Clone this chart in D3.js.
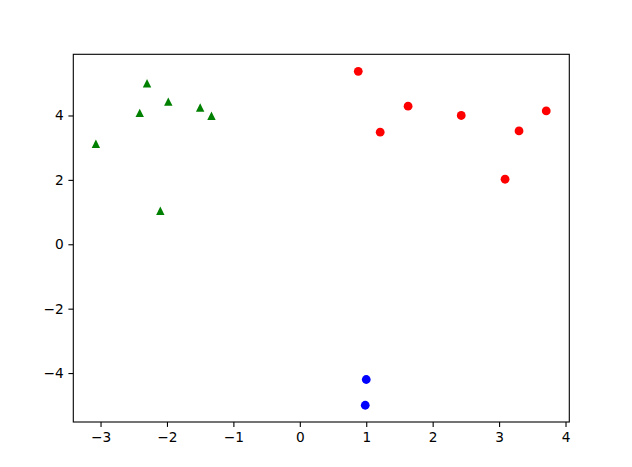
<!DOCTYPE html>
<html>
<head>
<meta charset="utf-8">
<style>
  body { margin: 0; background: white; }
  svg { display: block; }
  .tick text { font-family: "DejaVu Sans", sans-serif; font-size: 13.7px; fill: #000; }
  .tick line, .domain { stroke: #000; stroke-width: 1.1; }
</style>
<script src="https://cdn.jsdelivr.net/npm/d3@7"></script>
</head>
<body>
<svg id="chart"></svg>
<script>
// green triangles
let greenX = [-3.07, -2.30, -2.41, -1.98, -1.50, -1.33, -2.10]
let greenY = [3.12, 5.00, 4.08, 4.43, 4.25, 3.99, 1.04]
// red circles
let redX = [0.88, 1.21, 1.63, 2.43, 3.09, 3.30, 3.71]
let redY = [5.37, 3.48, 4.29, 4.00, 2.02, 3.52, 4.14]
// blue circles
let blueX = [1.00, 0.985]
let blueY = [-4.20, -5.00]

let xTicks = [-3, -2, -1, 0, 1, 2, 3, 4]
let yTicks = [-4, -2, 0, 2, 4]

let width = 632, height = 467
let margin = {left: 73.3, right: 632 - 569.3, top: 54.3, bottom: 467 - 422}

let svg = d3.select("#chart").attr("width", width).attr("height", height)

let x = d3.scaleLinear().domain([-3.41, 4.057]).range([margin.left, width - margin.right])
let y = d3.scaleLinear().domain([-5.52, 5.90]).range([height - margin.bottom, margin.top])

function pts(xs, ys) {
  return xs.map((v, i) => ({x: v, y: ys[i]}))
}

let plot = svg.append("g")

plot.selectAll("circle.red").data(pts(redX, redY)).enter()
  .append("circle").attr("class", "red")
  .attr("cx", d => x(d.x)).attr("cy", d => y(d.y))
  .attr("r", 4.4).attr("fill", "#ff0000")

plot.selectAll("circle.blue").data(pts(blueX, blueY)).enter()
  .append("circle").attr("class", "blue")
  .attr("cx", d => x(d.x)).attr("cy", d => y(d.y))
  .attr("r", 4.4).attr("fill", "#0000ff")

let tri = "M0,-4.2L4.2,4.2L-4.2,4.2Z"
plot.selectAll("path.green").data(pts(greenX, greenY)).enter()
  .append("path").attr("class", "green")
  .attr("d", tri)
  .attr("transform", d => `translate(${x(d.x)},${y(d.y)})`)
  .attr("fill", "#008000")

// frame
svg.append("rect")
  .attr("x", margin.left).attr("y", margin.top)
  .attr("width", width - margin.left - margin.right)
  .attr("height", height - margin.top - margin.bottom)
  .attr("fill", "none").attr("stroke", "#000").attr("stroke-width", 1.1)

svg.append("g")
  .attr("transform", `translate(0,${height - margin.bottom})`)
  .call(d3.axisBottom(x).tickValues(xTicks).tickFormat(d3.format("d")).tickSize(4.9).tickSizeOuter(0).tickPadding(5.5))
  .call(g => g.select(".domain").remove())

svg.append("g")
  .attr("transform", `translate(${margin.left},0)`)
  .call(d3.axisLeft(y).tickValues(yTicks).tickFormat(d3.format("d")).tickSize(4.9).tickSizeOuter(0).tickPadding(4.8))
  .call(g => g.select(".domain").remove())
</script>
</body>
</html>
